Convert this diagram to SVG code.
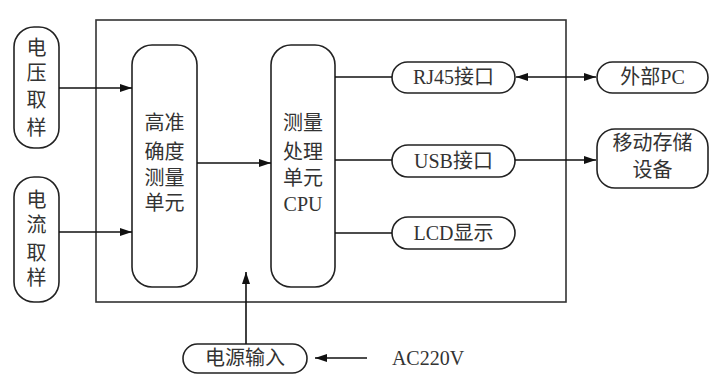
<svg xmlns="http://www.w3.org/2000/svg" width="713" height="374" viewBox="0 0 713 374">
<defs>
<style>
.n{fill:#fff;stroke:#222;stroke-width:1.6}
.t{font-family:"Liberation Serif","Noto Sans CJK SC",serif;font-size:20px;fill:#333;text-anchor:middle}
.c{fill:none;stroke:#111;stroke-width:1.6}
</style>
<marker id="a" viewBox="0 0 12 8" refX="12" refY="4" markerWidth="12" markerHeight="8" markerUnits="userSpaceOnUse" orient="auto-start-reverse">
<path d="M0,0L12,4L0,8Z" fill="#111"/>
</marker>
</defs>
<rect width="713" height="374" fill="#fff"/>
<g id="mainbox"><rect x="96" y="20" width="470" height="282" fill="none" stroke="#333" stroke-width="1.6"/></g>
<g id="voltage"><rect class="n" x="14" y="27" width="45" height="121" rx="20"/>
<text class="t" x="36.5" y="55">电</text><text class="t" x="36.5" y="80">压</text><text class="t" x="36.5" y="107">取</text><text class="t" x="36.5" y="135">样</text></g>
<g id="current"><rect class="n" x="14" y="177" width="45" height="125" rx="20"/>
<text class="t" x="36.5" y="207">电</text><text class="t" x="36.5" y="232">流</text><text class="t" x="36.5" y="260">取</text><text class="t" x="36.5" y="285">样</text></g>
<g id="measure"><rect class="n" x="132" y="45" width="65" height="242" rx="20"/>
<text class="t" x="164.5" y="130">高准</text><text class="t" x="164.5" y="159">确度</text><text class="t" x="164.5" y="185">测量</text><text class="t" x="164.5" y="210">单元</text></g>
<g id="cpu"><rect class="n" x="271" y="45" width="64" height="242" rx="20"/>
<text class="t" x="303" y="130">测量</text><text class="t" x="303" y="159">处理</text><text class="t" x="303" y="185">单元</text><text class="t" x="303" y="211">CPU</text></g>
<g id="rj45"><rect class="n" x="392" y="62" width="123" height="31" rx="15.5"/><text class="t" x="453.5" y="84">RJ45接口</text></g>
<g id="usb"><rect class="n" x="392" y="145" width="123" height="32" rx="16"/><text class="t" x="453.5" y="168">USB接口</text></g>
<g id="lcd"><rect class="n" x="392" y="217" width="123" height="32" rx="16"/><text class="t" x="453.5" y="240">LCD显示</text></g>
<g id="pc"><rect class="n" x="597" y="62" width="111" height="31" rx="15.5"/><text class="t" x="652.5" y="84">外部PC</text></g>
<g id="storage"><rect class="n" x="597" y="129" width="111" height="59" rx="18"/><text class="t" x="652.5" y="150">移动存储</text><text class="t" x="652.5" y="177">设备</text></g>
<g id="power"><rect class="n" x="183" y="344" width="124" height="29" rx="14.5"/><text class="t" x="245" y="365">电源输入</text></g>
<g id="ac"><text class="t" x="428" y="365">AC220V</text></g>
<g id="connectors">
<line class="c" x1="59" y1="88" x2="132" y2="88" marker-end="url(#a)"/>
<line class="c" x1="59" y1="232" x2="132" y2="232" marker-end="url(#a)"/>
<line class="c" x1="197" y1="163" x2="271" y2="163" marker-end="url(#a)"/>
<line class="c" x1="335" y1="77" x2="392" y2="77"/>
<line class="c" x1="335" y1="160" x2="392" y2="160"/>
<line class="c" x1="335" y1="233" x2="392" y2="233"/>
<line class="c" x1="516" y1="77" x2="596" y2="77" marker-start="url(#a)" marker-end="url(#a)"/>
<line class="c" x1="515" y1="160" x2="596" y2="160" marker-end="url(#a)"/>
<line class="c" x1="246" y1="344" x2="246" y2="272" marker-end="url(#a)"/>
<line class="c" x1="367" y1="358" x2="315" y2="358" marker-end="url(#a)"/>
</g>
</svg>
